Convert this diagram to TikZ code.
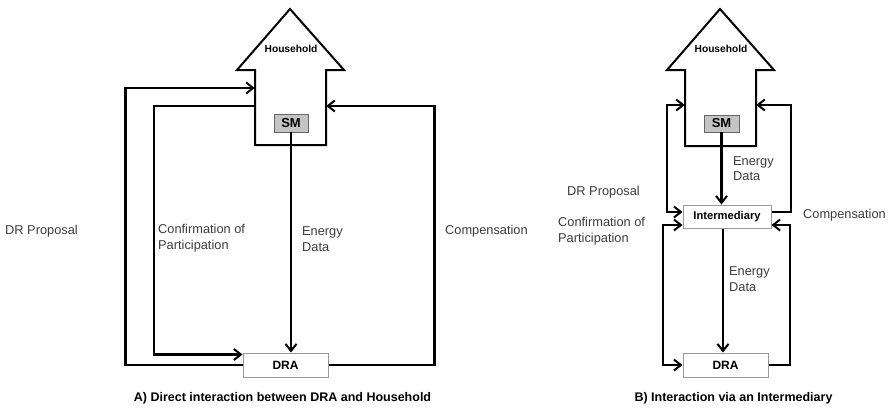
\documentclass[tikz,border=0pt]{standalone}
\usepackage{fontspec}
\setmainfont{Liberation Sans}
\usetikzlibrary{arrows.meta,shadows}
\definecolor{lbl}{HTML}{3C3C3C}
\definecolor{boxedge}{HTML}{9A9A9A}
\definecolor{smfill}{HTML}{C4C4C4}
\tikzset{
  conn/.style={line width=2.5pt,line join=miter},
  tip/.style={-{Straight Barb[length=7pt,width=11pt,line width=2pt]}},
  tips/.style={{Straight Barb[length=7pt,width=11pt,line width=2pt]}-{Straight Barb[length=7pt,width=11pt,line width=2pt]}},
  house/.style={line width=2pt,line join=miter,fill=white},
  shaft/.style={rectangle,inner sep=0pt},
  hlabel/.style={font=\fontsize{10.2}{12}\selectfont\bfseries},
  smbox/.style={rectangle,draw=gray!80!black,fill=smfill,line width=0.9pt,inner sep=0pt,
     font=\fontsize{13}{14}\selectfont\bfseries,drop shadow={shadow xshift=1.2pt,shadow yshift=-1.2pt,opacity=0.35}},
  wbox/.style={rectangle,draw=boxedge,fill=white,line width=1pt,inner sep=0pt,
     font=\fontsize{12}{14}\selectfont\bfseries,drop shadow={shadow xshift=1.2pt,shadow yshift=-1.2pt,opacity=0.3}},
  lab/.style={anchor=west,align=left,text=lbl,inner sep=0pt,font=\fontsize{12.8}{15.5}\selectfont},
  captiontext/.style={inner sep=0pt,font=\fontsize{12.5}{14}\selectfont\bfseries}
}
\begin{document}
\begin{tikzpicture}[x=1pt,y=-1pt]
\useasboundingbox[fill=white] (0,0) rectangle (891,408);

% ===== Panel A =====
\draw[house] (255,145) -- (255,70) -- (237,70) -- (290,9) -- (344,70) -- (326,70) -- (326,145) -- cycle;
\node[shaft,minimum width=71pt,minimum height=75pt] (hA) at (290.5,107.5) {};
\node[hlabel] (hhA) at (291,49) {Household};
\node[smbox,minimum width=34pt,minimum height=18pt] (smA) at (291,123) {SM};
\node[wbox,minimum width=85pt,minimum height=24pt] (draA) at (285.5,365) {DRA};

\draw[conn,tip] (draA.west) -- ++(-117,0) |- (hA.west |- 0,88);
\draw[conn,tip] (hA.west |- 0,106) -- (154,106) |- (draA.west |- 0,354.5);
\draw[conn,tip] (smA.south) -- (smA.south |- draA.north);
\draw[conn,tip] (draA.east) -- ++(106,0) |- (hA.east |- 0,106);

\node[lab] (lA1) at (5,231) {DR Proposal};
\node[lab] (lA2) at (158,238) {Confirmation of\\Participation};
\node[lab] (lA3) at (302,239) {Energy\\Data};
\node[lab] (lA4) at (445,231) {Compensation};
\node[captiontext] (capA) at (282.5,398) {A) Direct interaction between DRA and Household};

% ===== Panel B =====
\draw[house] (685,146) -- (685,70) -- (667,70) -- (720,9) -- (774,70) -- (756,70) -- (756,146) -- cycle;
\node[shaft,minimum width=71pt,minimum height=76pt] (hB) at (720.5,108) {};
\node[hlabel] (hhB) at (721,49) {Household};
\node[smbox,minimum width=35pt,minimum height=17pt] (smB) at (721.5,123.5) {SM};
\node[wbox,minimum width=88pt,minimum height=23pt,font=\fontsize{11.2}{13}\selectfont\bfseries] (intB) at (727,216.5) {Intermediary};
\node[wbox,minimum width=85pt,minimum height=24pt] (draB) at (725.5,365) {DRA};

\draw[conn,tip] (smB.south) -- (smB.south |- intB.north);
\draw[conn,tip] (intB.south -| 723,0) -- (723,0 |- draB.north);
\draw[conn,tips] (hB.west |- 0,105) -- (667,105) |- (intB.west |- 0,212);
\draw[conn,tip] (intB.east |- 0,212) -- (791,212) |- (hB.east |- 0,105);
\draw[conn,tips] (intB.west |- 0,225) -- (663,225) |- (draB.west);
\draw[conn,tip] (draB.east) -- (790,365) |- (intB.east |- 0,225);

\node[lab] (lB1) at (567,192) {DR Proposal};
\node[lab] (lB2) at (558,231) {Confirmation of\\Participation};
\node[lab] (lB3) at (733,168.5) {Energy\\Data};
\node[lab] (lB4) at (729,279) {Energy\\Data};
\node[lab] (lB5) at (803,215) {Compensation};
\node[captiontext] (capB) at (733.5,398) {B) Interaction via an Intermediary};
\end{tikzpicture}
\end{document}
